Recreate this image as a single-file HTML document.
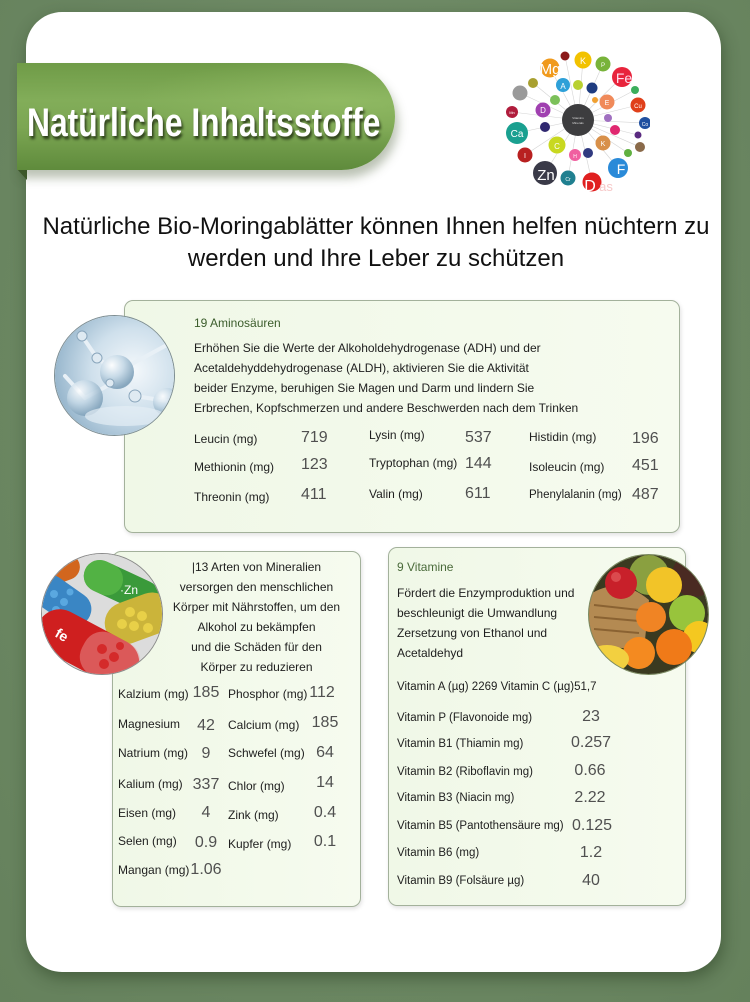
<!DOCTYPE html>
<html><head><meta charset="utf-8">
<style>
*{margin:0;padding:0;box-sizing:border-box}
html,body{width:750px;height:1002px;overflow:hidden}
body{position:relative;background:#6b8762;font-family:"Liberation Sans",Arial,sans-serif;color:#1c1c1c}
.abs{position:absolute}
.t{position:absolute;white-space:nowrap;font-size:12px;line-height:20px;color:#1e1e1e}
.t2{position:absolute;white-space:nowrap;font-size:11.5px;line-height:20px;color:#1e1e1e}
.v{position:absolute;white-space:nowrap;font-size:16px;line-height:20px;color:#505050}
.vc{position:absolute;white-space:nowrap;font-size:16px;line-height:20px;color:#505050;width:60px;text-align:center}
.box{position:absolute;border:1.5px solid #a3b19b;border-radius:9px;background:linear-gradient(90deg,#f0f8e7,#f6fbef);box-shadow:1px 2px 4px rgba(0,0,0,0.12)}
.circ{position:absolute;border-radius:50%;overflow:hidden}
</style></head><body>
<div class="abs" style="left:0;top:0;width:750px;height:1002px;background:radial-gradient(ellipse at 50% 40%,#7a9670 0%,#6b8762 60%,#65815c 100%)"></div>

<div class="abs" style="left:26px;top:12px;width:695px;height:960px;background:#fff;border-radius:36px;box-shadow:2px 6px 16px rgba(30,50,25,0.45)"></div>

<svg class="abs" style="left:0;top:0" width="40" height="200"><polygon points="17,169 27,169 27,180" fill="#3e5a2c"/></svg>
<div class="abs" style="left:17px;top:63px;width:378px;height:107px;border-radius:0 54px 54px 0;background:linear-gradient(180deg,#6f9b47 0%,#82ad59 35%,#7ca653 60%,#5f8b3c 100%);box-shadow:3px 8px 10px rgba(60,80,40,0.35)"></div>
<div class="abs" style="left:17px;top:63px;width:378px;height:107px;border-radius:0 54px 54px 0;background:radial-gradient(ellipse at 85% 35%,rgba(160,200,110,0.45),rgba(160,200,110,0) 45%)"></div>
<div class="abs" style="left:27px;top:103px;font-size:40px;line-height:40px;font-weight:bold;color:#fff;white-space:nowrap;transform:scaleX(0.795);transform-origin:0 0;text-shadow:2px 3px 3px rgba(20,30,10,0.75)">Natürliche Inhaltsstoffe</div>

<svg class="abs" style="left:490px;top:40px" width="160" height="160" viewBox="0 0 160 160">
<g stroke="#d4d4d4" stroke-width="0.6">
<line x1="88" y1="80" x2="75" y2="16"/><line x1="88" y1="80" x2="93" y2="20"/><line x1="88" y1="80" x2="60" y2="28"/><line x1="88" y1="80" x2="113" y2="24"/><line x1="88" y1="80" x2="132" y2="37"/><line x1="88" y1="80" x2="43" y2="43"/><line x1="88" y1="80" x2="30" y2="53"/><line x1="88" y1="80" x2="145" y2="50"/><line x1="88" y1="80" x2="148" y2="65"/><line x1="88" y1="80" x2="22" y2="72"/><line x1="88" y1="80" x2="155" y2="83"/><line x1="88" y1="80" x2="27" y2="93"/><line x1="88" y1="80" x2="148" y2="95"/><line x1="88" y1="80" x2="150" y2="107"/><line x1="88" y1="80" x2="35" y2="115"/><line x1="88" y1="80" x2="138" y2="113"/><line x1="88" y1="80" x2="55" y2="133"/><line x1="88" y1="80" x2="78" y2="138"/><line x1="88" y1="80" x2="128" y2="128"/><line x1="88" y1="80" x2="102" y2="142"/>
</g>
<circle cx="88" cy="80" r="16" fill="#3d3d3f"/>
<text x="88" y="79" font-size="3" fill="#ddd" text-anchor="middle" font-family="Liberation Sans">Vitamins</text>
<text x="88" y="84" font-size="3" fill="#ddd" text-anchor="middle" font-family="Liberation Sans">Minerals</text>
<circle cx="75" cy="16" r="4.5" fill="#8b1a1a"/>
<circle cx="93" cy="20" r="8.5" fill="#f2c200"/>
<circle cx="60" cy="28" r="9.5" fill="#f09a1c"/>
<circle cx="113" cy="24" r="7.5" fill="#78b33a"/>
<circle cx="132" cy="37" r="10" fill="#e8243c"/>
<circle cx="43" cy="43" r="5" fill="#a8a030"/>
<circle cx="73" cy="45" r="7" fill="#2ea0d8"/>
<circle cx="88" cy="45" r="5" fill="#b8d030"/>
<circle cx="102" cy="48" r="5.5" fill="#1e3c80"/>
<circle cx="30" cy="53" r="7.5" fill="#9a9a9a"/>
<circle cx="145" cy="50" r="4" fill="#3cae5c"/>
<circle cx="65" cy="60" r="5" fill="#7cc05a"/>
<circle cx="117" cy="62" r="7.5" fill="#f08a5a"/>
<circle cx="105" cy="60" r="3" fill="#f0a030"/>
<circle cx="148" cy="65" r="7.5" fill="#e0401a"/>
<circle cx="22" cy="72" r="6" fill="#b01c3c"/>
<circle cx="53" cy="70" r="7.5" fill="#a040b0"/>
<circle cx="155" cy="83" r="6" fill="#2050a0"/>
<circle cx="118" cy="78" r="4" fill="#a070c0"/>
<circle cx="55" cy="87" r="5" fill="#302870"/>
<circle cx="125" cy="90" r="5" fill="#e02870"/>
<circle cx="27" cy="93" r="11" fill="#1aa090"/>
<circle cx="148" cy="95" r="3.5" fill="#5a2a80"/>
<circle cx="67" cy="105" r="8.5" fill="#c8d820"/>
<circle cx="113" cy="103" r="7.5" fill="#d8904a"/>
<circle cx="150" cy="107" r="5" fill="#8a6a4a"/>
<circle cx="35" cy="115" r="7.5" fill="#b82020"/>
<circle cx="85" cy="115" r="6" fill="#f060a0"/>
<circle cx="98" cy="113" r="5" fill="#303a80"/>
<circle cx="138" cy="113" r="4" fill="#60b040"/>
<circle cx="55" cy="133" r="12" fill="#3a3a48"/>
<circle cx="78" cy="138" r="7.5" fill="#208090"/>
<circle cx="128" cy="128" r="10" fill="#2a8ad8"/>
<circle cx="102" cy="142" r="9.5" fill="#e02020"/>
<g font-family="Liberation Sans" fill="#fff" text-anchor="middle">
<text x="60" y="34" font-size="15">Mg</text>
<text x="93" y="24" font-size="9">K</text>
<text x="113" y="27" font-size="6">P</text>
<text x="134" y="43" font-size="14" fill="#fde">Fe</text>
<text x="73" y="49" font-size="8">A</text>
<text x="117" y="65" font-size="7">E</text>
<text x="148" y="68" font-size="6">Cu</text>
<text x="53" y="73" font-size="8">D</text>
<text x="27" y="97" font-size="10">Ca</text>
<text x="155" y="86" font-size="5">Co</text>
<text x="67" y="109" font-size="8">C</text>
<text x="113" y="106" font-size="7">K</text>
<text x="35" y="118" font-size="7">I</text>
<text x="85" y="118" font-size="5">H</text>
<text x="22" y="74" font-size="4">Mn</text>
<text x="56" y="140" font-size="15">Zn</text>
<text x="78" y="141" font-size="5">Cr</text>
<text x="131" y="134" font-size="14">F</text>
<text x="100" y="151" font-size="16">D</text>
<text x="116" y="151" font-size="13" fill="#f6c8c8">as</text>
</g>
</svg>

<div class="abs" style="left:0;top:211px;width:752px;text-align:center;font-size:24px;line-height:32px;color:#111">Natürliche Bio-Moringablätter können Ihnen helfen nüchtern zu<br>werden und Ihre Leber zu schützen</div>

<div class="box" style="left:124px;top:300px;width:556px;height:233px"></div>
<div class="circ" style="left:54px;top:315px;width:121px;height:121px;border:1px solid #7d8d92">
<svg width="121" height="121" viewBox="0 0 121 121">
<defs>
<radialGradient id="mg" cx="0.65" cy="0.45" r="0.7"><stop offset="0" stop-color="#f4f8fb"/><stop offset="0.5" stop-color="#cfe0ec"/><stop offset="1" stop-color="#8fb0c8"/></radialGradient>
<radialGradient id="sp" cx="0.35" cy="0.3" r="0.7"><stop offset="0" stop-color="#ffffff"/><stop offset="0.5" stop-color="#c4d8e6"/><stop offset="1" stop-color="#7d9fb8"/></radialGradient>
</defs>
<rect width="121" height="121" fill="url(#mg)"/>
<g stroke="#e8f0f6" stroke-width="4" stroke-linecap="round">
<line x1="27" y1="20" x2="42" y2="42"/><line x1="42" y1="42" x2="62" y2="56"/><line x1="62" y1="56" x2="110" y2="30"/><line x1="62" y1="56" x2="80" y2="80"/><line x1="80" y1="80" x2="112" y2="85"/><line x1="52" y1="70" x2="30" y2="82"/><line x1="10" y1="60" x2="30" y2="82"/></g>
<circle cx="62" cy="56" r="17" fill="url(#sp)" opacity="0.9"/>
<circle cx="30" cy="82" r="18" fill="url(#sp)" opacity="0.85"/>
<circle cx="112" cy="86" r="14" fill="url(#sp)" opacity="0.85"/>
<circle cx="42" cy="42" r="5" fill="#dfeaf2" stroke="#8aa6bc"/>
<circle cx="27" cy="20" r="5" fill="#dfeaf2" stroke="#8aa6bc"/>
<circle cx="80" cy="80" r="6" fill="#dfeaf2" stroke="#8aa6bc"/>
<circle cx="55" cy="67" r="4" fill="#dfeaf2" stroke="#8aa6bc"/>
<ellipse cx="70" cy="100" rx="40" ry="10" fill="#e4eef5" opacity="0.7"/>
</svg></div>
<div class="t" style="left:194px;top:313px;color:#3b5c2b">19 Aminosäuren</div>
<div class="t" style="left:194px;top:338px">Erhöhen Sie die Werte der Alkoholdehydrogenase (ADH) und der</div>
<div class="t" style="left:194px;top:358px">Acetaldehyddehydrogenase (ALDH), aktivieren Sie die Aktivität</div>
<div class="t" style="left:194px;top:378px">beider Enzyme, beruhigen Sie Magen und Darm und lindern Sie</div>
<div class="t" style="left:194px;top:398px">Erbrechen, Kopfschmerzen und andere Beschwerden nach dem Trinken</div>

<div class="t" style="left:194px;top:429px">Leucin (mg)</div><div class="v" style="left:301px;top:428px">719</div>
<div class="t" style="left:194px;top:457px">Methionin (mg)</div><div class="v" style="left:301px;top:455px">123</div>
<div class="t" style="left:194px;top:487px">Threonin (mg)</div><div class="v" style="left:301px;top:485px">411</div>
<div class="t" style="left:369px;top:425px">Lysin (mg)</div><div class="v" style="left:465px;top:428px">537</div>
<div class="t" style="left:369px;top:453px">Tryptophan (mg)</div><div class="v" style="left:465px;top:454px">144</div>
<div class="t" style="left:369px;top:484px">Valin (mg)</div><div class="v" style="left:465px;top:484px">611</div>
<div class="t" style="left:529px;top:427px">Histidin (mg)</div><div class="v" style="left:632px;top:429px">196</div>
<div class="t" style="left:529px;top:457px">Isoleucin (mg)</div><div class="v" style="left:632px;top:456px">451</div>
<div class="t2" style="left:529px;top:485px">Phenylalanin (mg)</div><div class="v" style="left:632px;top:485px">487</div>

<div class="box" style="left:112px;top:551px;width:249px;height:356px"></div>
<div class="circ" style="left:41px;top:553px;width:122px;height:122px;border:1px solid #8a8a8a">
<svg width="122" height="122" viewBox="0 0 122 122">
<rect width="122" height="122" fill="#dcdcdc"/>
<g transform="rotate(-20 20 20)"><rect x="-20" y="2" width="60" height="26" rx="13" fill="#d2661e"/></g>
<g transform="rotate(25 75 30)"><rect x="40" y="14" width="80" height="32" rx="16" fill="#3a9a3a"/><rect x="40" y="14" width="40" height="32" rx="16" fill="#5cbc48" opacity="0.7"/></g>
<text x="78" y="40" font-size="12" fill="#fff" font-family="Liberation Sans">·Zn</text>
<g transform="rotate(35 20 50)"><rect x="-15" y="30" width="65" height="34" rx="17" fill="#3a86c4"/></g>
<g fill="#5aa8e0"><circle cx="12" cy="40" r="4"/><circle cx="22" cy="48" r="4"/><circle cx="14" cy="56" r="4"/><circle cx="28" cy="38" r="3.5"/></g>
<g transform="rotate(-20 95 65)"><rect x="62" y="44" width="70" height="42" rx="21" fill="#cbb43a"/></g>
<g fill="#e8d048"><circle cx="88" cy="58" r="5"/><circle cx="100" cy="62" r="5"/><circle cx="92" cy="72" r="5"/><circle cx="106" cy="74" r="5"/><circle cx="80" cy="70" r="5"/></g>
<g transform="rotate(28 45 95)"><rect x="-10" y="70" width="110" height="46" rx="23" fill="#cf1f1f"/><rect x="40" y="70" width="60" height="46" rx="20" fill="#e8a0a0" opacity="0.45"/></g>
<g fill="#d42a2a"><circle cx="60" cy="95" r="5"/><circle cx="72" cy="103" r="5"/><circle cx="62" cy="110" r="5"/><circle cx="78" cy="92" r="4"/></g>
<text x="12" y="82" font-size="14" font-weight="bold" fill="#fff" transform="rotate(30 12 82)" font-family="Liberation Sans">fe</text>
</svg></div>
<div class="abs" style="left:156px;top:557px;width:201px;text-align:center;font-size:12px;line-height:20px;color:#1e1e1e">|13 Arten von Mineralien<br>versorgen den menschlichen<br>Körper mit Nährstoffen, um den<br>Alkohol zu bekämpfen<br>und die Schäden für den<br>Körper zu reduzieren</div>

<div class="t" style="left:118px;top:684px">Kalzium (mg)</div><div class="vc" style="left:176px;top:683px">185</div>
<div class="t" style="left:118px;top:714px">Magnesium</div><div class="vc" style="left:176px;top:716px">42</div>
<div class="t" style="left:118px;top:743px">Natrium (mg)</div><div class="vc" style="left:176px;top:744px">9</div>
<div class="t" style="left:118px;top:774px">Kalium (mg)</div><div class="vc" style="left:176px;top:775px">337</div>
<div class="t" style="left:118px;top:803px">Eisen (mg)</div><div class="vc" style="left:176px;top:803px">4</div>
<div class="t" style="left:118px;top:831px">Selen (mg)</div><div class="vc" style="left:176px;top:833px">0.9</div>
<div class="t" style="left:118px;top:860px">Mangan (mg)</div><div class="vc" style="left:176px;top:860px">1.06</div>
<div class="t" style="left:228px;top:684px">Phosphor (mg)</div><div class="vc" style="left:292px;top:683px">112</div>
<div class="t" style="left:228px;top:715px">Calcium (mg)</div><div class="vc" style="left:295px;top:713px">185</div>
<div class="t" style="left:228px;top:743px">Schwefel (mg)</div><div class="vc" style="left:295px;top:743px">64</div>
<div class="t" style="left:228px;top:776px">Chlor (mg)</div><div class="vc" style="left:295px;top:773px">14</div>
<div class="t" style="left:228px;top:805px">Zink (mg)</div><div class="vc" style="left:295px;top:803px">0.4</div>
<div class="t" style="left:228px;top:834px">Kupfer (mg)</div><div class="vc" style="left:295px;top:832px">0.1</div>

<div class="box" style="left:388px;top:547px;width:298px;height:359px"></div>
<div class="circ" style="left:588px;top:554px;width:121px;height:121px;border:1px solid #7a8a60">
<svg width="121" height="121" viewBox="0 0 121 121">
<rect width="121" height="121" fill="#3a3a20"/>
<circle cx="105" cy="20" r="22" fill="#4a2a22"/>
<circle cx="60" cy="20" r="20" fill="#8aa040"/>
<path d="M0 40 Q30 20 60 45 L55 95 L0 90 Z" fill="#b48a52"/>
<path d="M5 50 L50 55 M5 62 L50 66 M5 74 L50 78" stroke="#8a6232" stroke-width="2"/>
<circle cx="32" cy="28" r="16" fill="#c8202a"/>
<circle cx="27" cy="22" r="5" fill="#e86868" opacity="0.6"/>
<circle cx="75" cy="30" r="18" fill="#f2c428"/>
<circle cx="98" cy="58" r="18" fill="#98c43c"/>
<circle cx="62" cy="62" r="15" fill="#f08424"/>
<circle cx="110" cy="82" r="16" fill="#f4c820"/>
<circle cx="85" cy="92" r="18" fill="#f07a18"/>
<circle cx="50" cy="98" r="16" fill="#f48a20"/>
<ellipse cx="18" cy="104" rx="22" ry="14" fill="#f2d040"/>
<circle cx="118" cy="110" r="12" fill="#f4b020"/>
</svg></div>
<div class="t" style="left:397px;top:557px;color:#4a6a3a">9 Vitamine</div>
<div class="abs" style="left:397px;top:583px;font-size:12px;line-height:20px;color:#1e1e1e;white-space:nowrap">Fördert die Enzymproduktion und<br>beschleunigt die Umwandlung<br>Zersetzung von Ethanol und<br>Acetaldehyd</div>
<div class="t2" style="left:397px;top:677px">Vitamin A (µg) 2269 Vitamin C (µg)51,7</div>

<div class="t2" style="left:397px;top:708px">Vitamin P (Flavonoide mg)</div><div class="vc" style="left:561px;top:707px">23</div>
<div class="t2" style="left:397px;top:734px">Vitamin B1 (Thiamin mg)</div><div class="vc" style="left:561px;top:733px">0.257</div>
<div class="t2" style="left:397px;top:762px">Vitamin B2 (Riboflavin mg)</div><div class="vc" style="left:560px;top:761px">0.66</div>
<div class="t2" style="left:397px;top:788px">Vitamin B3 (Niacin mg)</div><div class="vc" style="left:560px;top:788px">2.22</div>
<div class="t2" style="left:397px;top:816px">Vitamin B5 (Pantothensäure mg)</div><div class="vc" style="left:562px;top:816px">0.125</div>
<div class="t2" style="left:397px;top:843px">Vitamin B6 (mg)</div><div class="vc" style="left:561px;top:843px">1.2</div>
<div class="t2" style="left:397px;top:871px">Vitamin B9 (Folsäure µg)</div><div class="vc" style="left:561px;top:871px">40</div>
</body></html>
